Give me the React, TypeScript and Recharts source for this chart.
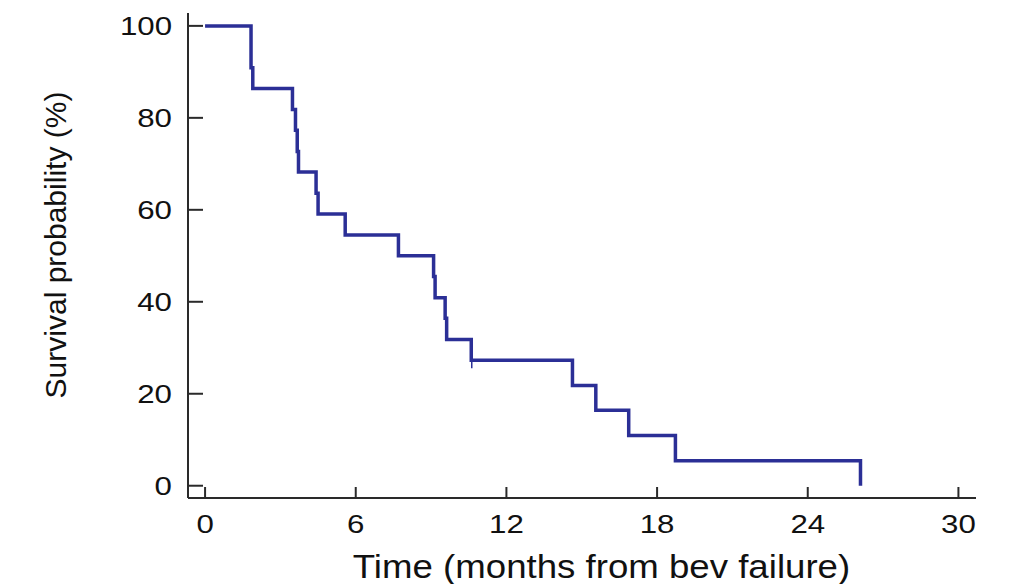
import { ComposedChart, Line, Scatter, XAxis, YAxis, Label } from 'recharts';

const times = [0, 1.83, 1.9, 3.48, 3.6, 3.67, 3.72, 4.42, 4.5, 5.58, 7.7, 9.1, 9.16, 9.56, 9.62, 10.6, 14.63, 15.56, 16.87, 18.73, 26.1];
const survival = [100, 90.9, 86.4, 81.8, 77.3, 72.7, 68.2, 63.6, 59.1, 54.5, 50.0, 45.5, 40.9, 36.4, 31.8, 27.3, 21.8, 16.4, 10.9, 5.45, 0];
const censoredTimes = [10.62];
const censoredSurvival = [27.3];
const xTicks = [0, 6, 12, 18, 24, 30];
const yTicks = [0, 20, 40, 60, 80, 100];

const curve = times.map((t, i) => ({ t, s: survival[i] }));
const censored = censoredTimes.map((t, i) => ({ t, s: censoredSurvival[i] }));

const font = '"Liberation Sans", Arial, sans-serif';
const ink = '#111';
const axisColor = '#2a2a2a';
const lineColor = '#2b2f96';

function YTick({ x, y, payload }: any) {
  return (
    <text
      transform={`translate(${x},${y}) scale(1.25,1)`}
      textAnchor="end"
      dy="0.36em"
      fontFamily={font}
      fontSize={25}
      fill={ink}
    >
      {payload.value}
    </text>
  );
}

function XTick({ x, y, payload }: any) {
  return (
    <text
      transform={`translate(${x},${y}) scale(1.25,1)`}
      textAnchor="middle"
      dy="0.72em"
      fontFamily={font}
      fontSize={25}
      fill={ink}
    >
      {payload.value}
    </text>
  );
}

function CensorMark({ cx, cy }: any) {
  return <line x1={cx} y1={cy} x2={cx} y2={cy + 8} stroke={lineColor} strokeWidth={1.5} />;
}

export default function App() {
  return (
    <div style={{ position: 'absolute', left: 0, top: 0, background: '#fff' }}>
      <ComposedChart width={1012} height={584} margin={{ top: 13, right: 36, bottom: 0, left: 0 }}>
        <XAxis
          type="number"
          dataKey="t"
          domain={[-0.68, 30.7]}
          ticks={xTicks}
          allowDataOverflow
          height={86}
          stroke={axisColor}
          strokeWidth={2}
          tickSize={-11}
          tickMargin={28}
          tick={<XTick />}
        >
          <Label
            content={({ viewBox }: any) => (
              <text
                transform={`translate(${viewBox.x + viewBox.width / 2 + 19.5},578) scale(1.11,1)`}
                textAnchor="middle"
                fontFamily={font}
                fontSize={33}
                fill={ink}
              >
                Time (months from bev failure)
              </text>
            )}
          />
        </XAxis>
        <YAxis
          type="number"
          domain={[-2.67, 102.8]}
          ticks={yTicks}
          allowDataOverflow
          width={188}
          stroke={axisColor}
          strokeWidth={2}
          tickSize={-15}
          tickMargin={31}
          tick={<YTick />}
        >
          <Label
            content={() => (
              <text
                transform="translate(66,245) rotate(-90)"
                textAnchor="middle"
                fontFamily={font}
                fontSize={30}
                fill={ink}
              >
                Survival probability (%)
              </text>
            )}
          />
        </YAxis>
        <Line
          data={curve}
          dataKey="s"
          type="stepAfter"
          stroke={lineColor}
          strokeWidth={3.5}
          dot={false}
          isAnimationActive={false}
        />
        <Scatter data={censored} dataKey="s" shape={<CensorMark />} isAnimationActive={false} />
      </ComposedChart>
    </div>
  );
}
